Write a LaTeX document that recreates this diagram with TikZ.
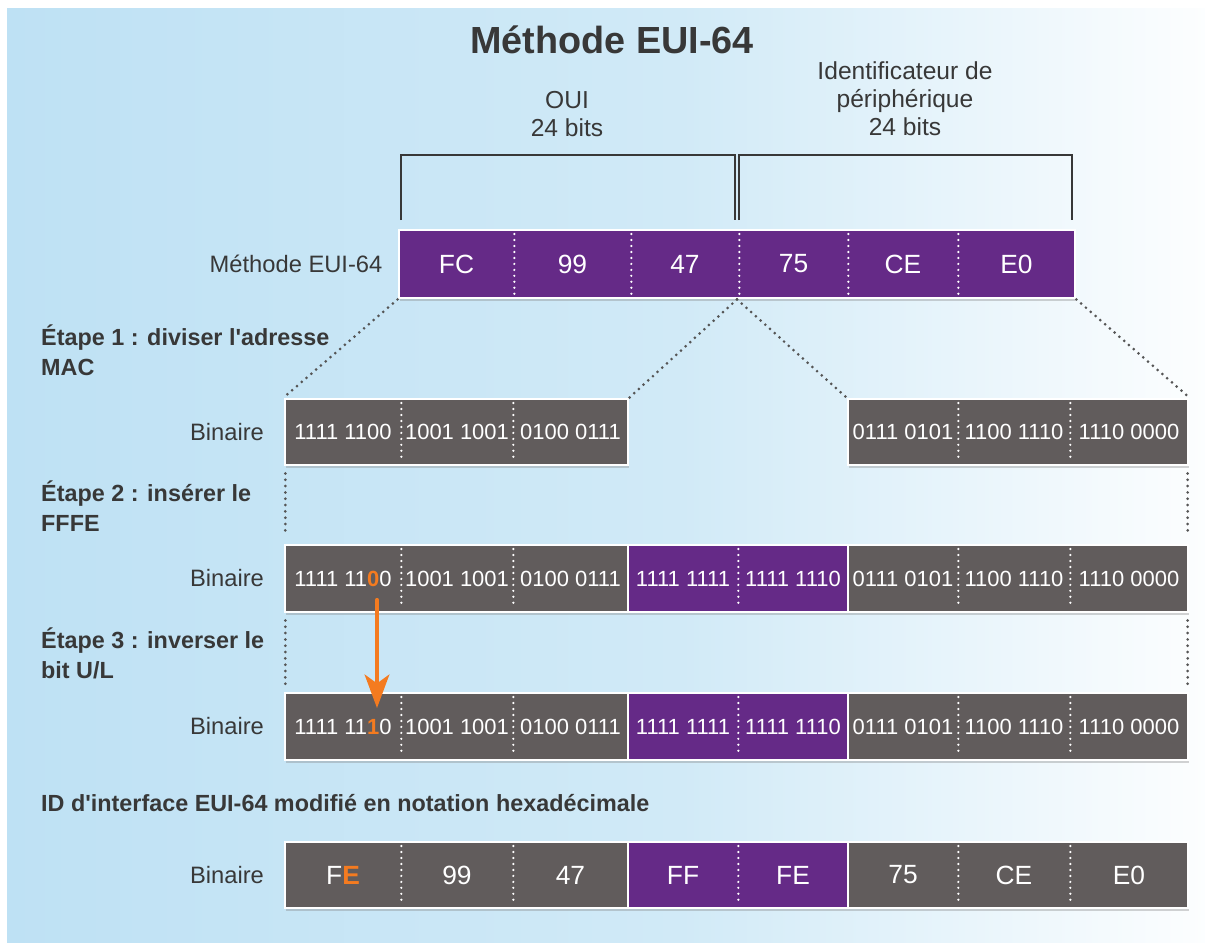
\documentclass[tikz,border=0pt]{standalone}
\usepackage{fontspec}
\setmainfont{Liberation Sans}
\usetikzlibrary{positioning,shadows,arrows.meta}
\definecolor{euipurple}{HTML}{652A87}
\definecolor{bingray}{HTML}{615C5C}
\definecolor{flipcol}{HTML}{F47B20}
\definecolor{txtgray}{HTML}{383838}
\definecolor{dotgray}{HTML}{555555}
\definecolor{bgblue}{HTML}{BEE1F4}
\definecolor{bgmid}{HTML}{D1EAF7}
\newcommand{\flipbit}[1]{{\bfseries\color{flipcol}#1}}

\begin{document}
\begin{tikzpicture}[x=0.02cm, y=-0.02cm,
    span/.style n args={4}{at={({(#1+#2)/2},{(#3+#4)/2})},
      minimum width={(#2-#1)*0.02cm}, minimum height={(#4-#3)*0.02cm}},
    grp/.style={draw=white, line width=1.6pt, inner sep=0pt,
      drop shadow={opacity=0.35, shadow xshift=0.8pt, shadow yshift=-1.8pt}},
    cell/.style={inner sep=0pt, text=white},
    bits/.style={cell, font=\fontsize{12.5}{14}\selectfont},
    hex/.style={cell, font=\fontsize{15}{17}\selectfont},
    sep/.style={white, line width=1.4pt, dash pattern=on 0pt off 3.4pt, line cap=round,
      shorten <=2.5pt, shorten >=2.5pt},
    guide/.style={dotgray, line width=1.7pt, dash pattern=on 0pt off 3.6pt, line cap=round},
    brk/.style={txtgray, line width=1.1pt},
    lbl/.style={text=txtgray, font=\fontsize{13.5}{16}\selectfont},
    etape/.style={text=txtgray, font=\bfseries\fontsize{13.3}{17}\selectfont, align=left, anchor=west},
    flip/.style={flipcol, line width=2.4pt, line cap=round, -{Stealth[length=19pt,width=14pt,inset=5pt]}}]

  % fond
  \useasboundingbox (0,0) rectangle (1205,943);
  \shade[left color=bgblue, right color=bgmid] (7,8) rectangle (680,943);
  \shade[left color=bgmid, right color=white!96!bgblue] (680,8) rectangle (1205,943);

  \node[text=txtgray, font=\bfseries\fontsize{21.5}{24}\selectfont] (title) at (612,40) {Méthode EUI-64};
  \node[lbl, align=center, font=\fontsize{14}{16}\selectfont] (oui) at (567,114) {OUI\\24 bits};
  \node[lbl, align=center, font=\fontsize{14}{16}\selectfont] (devid) at (905,99) {Identificateur de\\périphérique\\24 bits};
  \draw[brk] (401,220) |- (735,155) -- (735,220);
  \draw[brk] (739,220) |- (1072,155) -- (1072,220);

  % adresse MAC
  \node[grp, fill=euipurple, span={399}{1075}{230}{298}] (eui) {};
  \foreach \i/\xa/\xb/\txt in {1/399/514/FC, 2/514/631/99, 3/631/739/47, 4/739/848/75, 5/848/958/CE, 6/958/1075/E0}
    \node[hex, span={\xa}{\xb}{230}{298}] (hex\i) {\txt};
  \foreach \i in {1,...,5}
    \draw[sep] (hex\i.north east) -- (hex\i.south east);
  \node[lbl, left=0.18cm of eui] (euilbl) {Méthode EUI-64};

  % lignes binaires
  \foreach \r/\ya/\yb/\first in {1/399/465/{1111 1100}, 2/545/612/{1111 11\flipbit{0}0}, 3/693/760/{1111 11\flipbit{1}0}} {
    \node[grp, fill=bingray, span={285}{628}{\ya}{\yb}] (binA\r) {};
    \node[grp, fill=bingray, span={848}{1188}{\ya}{\yb}] (binC\r) {};
    \node[bits, span={285}{401}{\ya}{\yb}] (a\r-1) {\first};
    \node[bits, span={401}{513}{\ya}{\yb}] (a\r-2) {1001 1001};
    \node[bits, span={513}{628}{\ya}{\yb}] (a\r-3) {0100 0111};
    \node[bits, span={848}{958}{\ya}{\yb}] (c\r-1) {0111 0101};
    \node[bits, span={958}{1070}{\ya}{\yb}] (c\r-2) {1100 1110};
    \node[bits, span={1070}{1188}{\ya}{\yb}] (c\r-3) {1110 0000};
    \draw[sep] (a\r-1.north east) -- (a\r-1.south east);
    \draw[sep] (a\r-2.north east) -- (a\r-2.south east);
    \draw[sep] (c\r-1.north east) -- (c\r-1.south east);
    \draw[sep] (c\r-2.north east) -- (c\r-2.south east);
    \ifnum\r>1
      \node[grp, fill=euipurple, span={628}{848}{\ya}{\yb}] (binB\r) {};
      \node[bits, span={628}{738}{\ya}{\yb}] (b\r-1) {1111 1111};
      \node[bits, span={738}{848}{\ya}{\yb}] (b\r-2) {1111 1110};
      \draw[sep] (b\r-1.north east) -- (b\r-1.south east);
    \fi
    \node[lbl, left=0.27cm of binA\r] (bin\r) {Binaire};
  }

  % pointilles
  \draw[guide] (eui.south west) -- (binA1.north west);
  \draw[guide] (eui.south) -- (binA1.north east);
  \draw[guide] (eui.south) -- (binC1.north west);
  \draw[guide] (eui.south east) -- (binC1.north east);
  \draw[guide] ([xshift=1pt, yshift=-4pt]binA1.south west) -- ([xshift=1pt, yshift=4pt]binA2.north west);
  \draw[guide] ([xshift=-1pt, yshift=-4pt]binC1.south east) -- ([xshift=-1pt, yshift=4pt]binC2.north east);
  \draw[guide] ([xshift=1pt, yshift=-4pt]binA2.south west) -- ([xshift=1pt, yshift=4pt]binA3.north west);
  \draw[guide] ([xshift=-1pt, yshift=-4pt]binC2.south east) -- ([xshift=-1pt, yshift=4pt]binC3.north east);

  % bit U/L
  \coordinate (bitold) at (377,600);
  \coordinate (bitnew) at (377,708);
  \draw[flip] (bitold) -- (bitnew);

  % resultat
  \node[grp, fill=bingray, span={285}{628}{842}{908}] (resA) {};
  \node[grp, fill=euipurple, span={628}{848}{842}{908}] (resB) {};
  \node[grp, fill=bingray, span={848}{1188}{842}{908}] (resC) {};
  \foreach \i/\xa/\xb/\txt in {1/285/401/F\flipbit{E}, 2/401/513/99, 3/513/628/47, 4/628/738/FF, 5/738/848/FE, 6/848/958/75, 7/958/1070/CE, 8/1070/1188/E0}
    \node[hex, span={\xa}{\xb}{842}{908}] (res\i) {\txt};
  \foreach \i in {1,2,4,6,7}
    \draw[sep] (res\i.north east) -- (res\i.south east);
  \node[lbl, left=0.27cm of resA] (bin4) {Binaire};

  \node[etape] (step1) at (35,350) {Étape 1 : diviser l\textquotesingle adresse\\MAC};
  \node[etape] (step2) at (35,506) {Étape 2 : insérer le\\FFFE};
  \node[etape] (step3) at (35,653) {Étape 3 : inverser le\\bit U/L};
  \node[etape] (idhex) at (35,803) {ID d\textquotesingle interface EUI-64 modifié en notation hexadécimale};
\end{tikzpicture}
\end{document}
